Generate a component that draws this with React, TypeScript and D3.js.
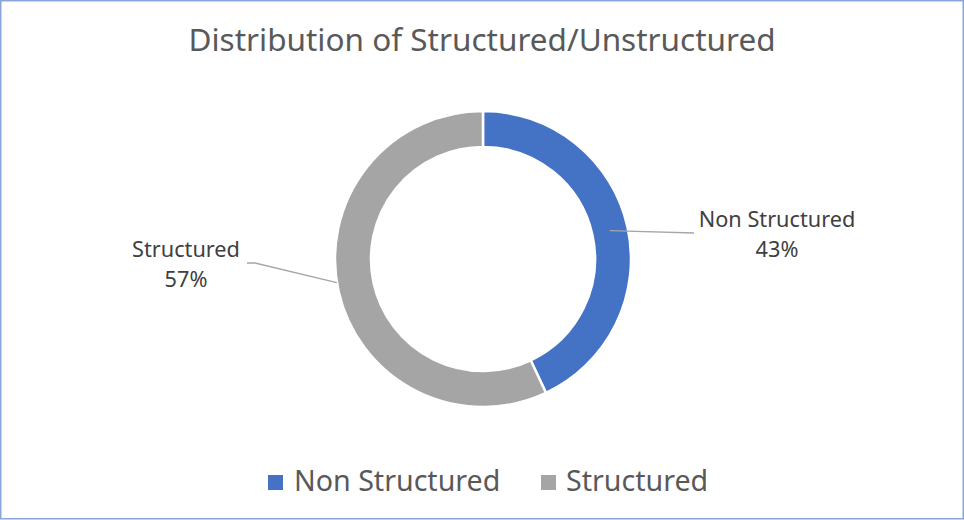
import React from "react";
import * as d3 from "d3";

const categories = ["Non Structured", "Structured"];
const values = [43, 57];
const colors = ["#4472C4", "#A5A5A5"];
const title = "Distribution of Structured/Unstructured";

const W = 964;
const H = 520;
const FONT = "'Noto Sans', 'Open Sans', sans-serif";

export default function App() {
  const cx = 483;
  const cy = 259;
  const outerR = 148;
  const innerR = 112;

  const pie = d3
    .pie<number>()
    .sort(null)
    .value((d) => d)
    .startAngle(0)
    .endAngle(2 * Math.PI);
  const arcs = pie(values);
  const arcGen = d3.arc<d3.PieArcDatum<number>>().innerRadius(innerR).outerRadius(outerR);
  const total = d3.sum(values);
  const fmt = (v: number) => `${Math.round((v / total) * 100)}%`;

  const polar = (angle: number, r: number): [number, number] => [
    cx + r * Math.sin(angle),
    cy - r * Math.cos(angle),
  ];

  // label layout (Excel-like best fit)
  const labelCfg = [
    { side: 1, attachR: (innerR + outerR) / 2, angOff: 0, lx: 777, ly: 227, lineEnd: [694, 233] },
    { side: -1, attachR: outerR, angOff: 0.06, lx: 186, ly: 257, lineEnd: [247, 263] },
  ];

  return (
    <svg
      width={W}
      height={H}
      style={{ position: "absolute", left: 0, top: 0, background: "#fff" }}
      fontFamily={FONT}
    >
      <rect x={0.75} y={0.75} width={W - 1.5} height={H - 2} fill="#fff" stroke="#8AA5DA" strokeWidth={1.5} />
      <text x={482} y={51} textAnchor="middle" fontSize={31.5} fill="#595959">
        {title}
      </text>

      <g transform={`translate(${cx},${cy})`}>
        {arcs.map((a, i) => (
          <path key={i} d={arcGen(a) || ""} fill={colors[i]} stroke="#fff" strokeWidth={2.5} />
        ))}
      </g>

      {arcs.map((a, i) => {
        const cfg = labelCfg[i];
        const mid = (a.startAngle + a.endAngle) / 2 + cfg.angOff;
        const [px, py] = polar(mid, cfg.attachR);
        const [ex, ey] = cfg.lineEnd;
        const pts =
          cfg.side > 0
            ? `${px},${py} ${ex},${ey}`
            : `${px},${py} ${ex + 8},${ey} ${ex},${ey}`;
        return (
          <g key={i}>
            <polyline points={pts} fill="none" stroke="#A6A6A6" strokeWidth={1.3} />
            <text x={cfg.lx} y={cfg.ly} textAnchor="middle" fontSize={21.7} fill="#404040">
              {categories[i]}
            </text>
            <text x={cfg.lx} y={cfg.ly + 30} textAnchor="middle" fontSize={21.7} fill="#404040">
              {fmt(values[i])}
            </text>
          </g>
        );
      })}

      <g>
        <rect x={268} y={475} width={15} height={15} fill={colors[0]} />
        <text x={294} y={491} fontSize={28.6} fill="#595959">
          {categories[0]}
        </text>
        <rect x={541} y={475} width={15} height={15} fill={colors[1]} />
        <text x={566} y={491} fontSize={28.6} fill="#595959">
          {categories[1]}
        </text>
      </g>
    </svg>
  );
}
